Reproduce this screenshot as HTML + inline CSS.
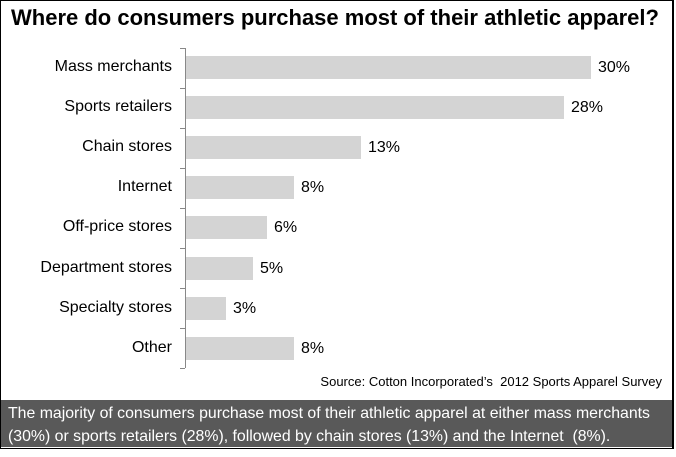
<!DOCTYPE html>
<html><head><style>
body{margin:0;background:#fff;width:676px;height:457px;overflow:hidden;font-family:"Liberation Sans",Arial,sans-serif;}
.frame{position:absolute;left:0;top:0;width:671px;height:447px;border:1px solid #000;border-right:2px solid #000;}
.title{position:absolute;left:11px;top:5px;font-size:22px;font-weight:bold;color:#000;white-space:nowrap;}
.lab{position:absolute;right:504px;font-size:16px;color:#000;white-space:nowrap;}
.bar{position:absolute;left:186px;height:23px;background:#d4d4d4;}
.val{position:absolute;font-size:16px;color:#000;}
.axis{position:absolute;left:185px;top:48px;width:1px;height:320px;background:#888;}
.tick{position:absolute;left:180px;width:5px;height:1px;background:#888;}
.src{position:absolute;right:14px;top:374px;font-size:13px;color:#000;}
.foot{position:absolute;left:1px;top:400px;width:671px;height:47px;background:#595959;color:#fff;font-size:15.85px;line-height:23px;padding-left:7px;box-sizing:border-box;padding-top:2px;white-space:nowrap;}
</style></head><body>
<div class="frame"></div>
<div class="title">Where do consumers purchase most of their athletic apparel?</div>
<div class="axis"></div>
<div class="tick" style="top:48px"></div><div class="tick" style="top:88px"></div><div class="tick" style="top:128px"></div><div class="tick" style="top:168px"></div><div class="tick" style="top:208px"></div><div class="tick" style="top:248px"></div><div class="tick" style="top:288px"></div><div class="tick" style="top:328px"></div><div class="tick" style="top:368px"></div>

<div class="lab" style="top:58px">Mass merchants</div><div class="bar" style="top:56px;width:405px"></div><div class="val" style="left:598px;top:59px">30%</div>
<div class="lab" style="top:98px">Sports retailers</div><div class="bar" style="top:96px;width:378px"></div><div class="val" style="left:571px;top:99px">28%</div>
<div class="lab" style="top:138px">Chain stores</div><div class="bar" style="top:136px;width:175px"></div><div class="val" style="left:368px;top:139px">13%</div>
<div class="lab" style="top:178px">Internet</div><div class="bar" style="top:176px;width:108px"></div><div class="val" style="left:301px;top:179px">8%</div>
<div class="lab" style="top:218px">Off-price stores</div><div class="bar" style="top:216px;width:81px"></div><div class="val" style="left:274px;top:219px">6%</div>
<div class="lab" style="top:259px">Department stores</div><div class="bar" style="top:257px;width:67px"></div><div class="val" style="left:260px;top:260px">5%</div>
<div class="lab" style="top:299px">Specialty stores</div><div class="bar" style="top:297px;width:40px"></div><div class="val" style="left:233px;top:300px">3%</div>
<div class="lab" style="top:339px">Other</div><div class="bar" style="top:337px;width:108px"></div><div class="val" style="left:301px;top:340px">8%</div>

<div class="src">Source: Cotton Incorporated’s&nbsp; 2012 Sports Apparel Survey</div>
<div class="foot">The majority of consumers purchase most of their athletic apparel at either mass merchants<br>(30%) or sports retailers (28%), followed by chain stores (13%) and the Internet&nbsp; (8%).</div>
</body></html>
